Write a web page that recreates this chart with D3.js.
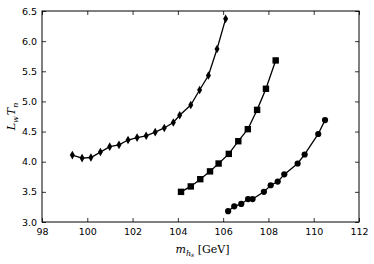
<!DOCTYPE html>
<html>
<head>
<meta charset="utf-8">
<script src="https://cdn.jsdelivr.net/npm/d3@7"></script>
<style>
  body { margin: 0; background: #fff; }
  text { font-family: "DejaVu Sans", sans-serif; }
</style>
</head>
<body>
<div id="chart"></div>
<script>
// diamond series
var diamondX = [99.34, 99.77, 100.16, 100.58, 100.99, 101.4, 101.8, 102.2, 102.6, 103.0, 103.4, 103.8, 104.08, 104.57, 104.96, 105.35, 105.73, 106.11];
var diamondY = [4.11, 4.06, 4.07, 4.16, 4.25, 4.28, 4.36, 4.40, 4.43, 4.49, 4.56, 4.65, 4.77, 4.94, 5.19, 5.43, 5.87, 6.37];
// square series
var squareX = [104.14, 104.57, 104.99, 105.42, 105.8, 106.25, 106.67, 107.09, 107.5, 107.89, 108.32];
var squareY = [3.50, 3.59, 3.71, 3.84, 3.97, 4.13, 4.34, 4.54, 4.86, 5.21, 5.68];
// circle series
var circleX = [106.22, 106.49, 106.8, 107.1, 107.3, 107.8, 108.1, 108.41, 108.7, 109.29, 109.6, 110.2, 110.5];
var circleY = [3.18, 3.26, 3.30, 3.38, 3.38, 3.50, 3.61, 3.67, 3.79, 3.97, 4.12, 4.46, 4.69];

var xTicks = [98, 100, 102, 104, 106, 108, 110, 112];
var yTicks = [3.0, 3.5, 4.0, 4.5, 5.0, 5.5, 6.0, 6.5];

var W = 374, H = 264;
var margin = {top: 11, right: 15, bottom: 42, left: 42};
var width = W - margin.left - margin.right,
    height = H - margin.top - margin.bottom;

var svg = d3.select("#chart").append("svg")
    .attr("width", W).attr("height", H);
var g = svg.append("g")
    .attr("transform", "translate(" + margin.left + "," + margin.top + ")");

var x = d3.scaleLinear().domain([98, 112]).range([0, width]);
var y = d3.scaleLinear().domain([3.0, 6.5]).range([height, 0]);

// axes, ticks pointing inward on all four sides
g.append("g").attr("transform", "translate(0," + height + ")")
  .call(d3.axisBottom(x).tickValues(xTicks).tickSizeInner(-4).tickSizeOuter(0).tickPadding(6).tickFormat(d3.format("d")));
g.append("g")
  .call(d3.axisTop(x).tickValues(xTicks).tickSizeInner(-4).tickSizeOuter(0).tickFormat(""));
g.append("g")
  .call(d3.axisLeft(y).tickValues(yTicks).tickSizeInner(-4).tickSizeOuter(0).tickPadding(5).tickFormat(d3.format(".1f")));
g.append("g").attr("transform", "translate(" + width + ",0)")
  .call(d3.axisRight(y).tickValues(yTicks).tickSizeInner(-4).tickSizeOuter(0).tickFormat(""));

g.selectAll(".domain").remove();
g.selectAll(".tick line").attr("stroke", "#000").attr("stroke-width", 0.8);
g.selectAll(".tick text").attr("font-size", "9.5px").attr("fill", "#000")
  .style("font-family", "'DejaVu Sans', sans-serif");

g.append("rect").attr("width", width).attr("height", height)
  .attr("fill", "none").attr("stroke", "#000").attr("stroke-width", 1);

var line = d3.line()
  .x(function(d) { return x(d[0]); })
  .y(function(d) { return y(d[1]); });

function zipXY(xs, ys) {
  return xs.map(function(v, i) { return [v, ys[i]]; });
}

var series = [
  {data: zipXY(diamondX, diamondY), shape: "diamond"},
  {data: zipXY(squareX, squareY), shape: "square"},
  {data: zipXY(circleX, circleY), shape: "circle"}
];

series.forEach(function(s) {
  g.append("path").datum(s.data)
    .attr("fill", "none").attr("stroke", "#000").attr("stroke-width", 1.3)
    .attr("d", line);

  var m = g.selectAll(null).data(s.data).enter();
  if (s.shape === "circle") {
    m.append("circle")
      .attr("cx", function(d) { return x(d[0]); })
      .attr("cy", function(d) { return y(d[1]); })
      .attr("r", 3.1).attr("fill", "#000");
  } else if (s.shape === "square") {
    m.append("rect")
      .attr("x", function(d) { return x(d[0]) - 3.2; })
      .attr("y", function(d) { return y(d[1]) - 3.2; })
      .attr("width", 6.4).attr("height", 6.4).attr("fill", "#000");
  } else {
    m.append("path")
      .attr("transform", function(d) { return "translate(" + x(d[0]) + "," + y(d[1]) + ")"; })
      .attr("d", "M0,-4.3L2.5,0L0,4.3L-2.5,0Z").attr("fill", "#000");
  }
});

// axis labels (math-style serif italic)
var xl = svg.append("text")
  .attr("x", margin.left + width / 2 + 2).attr("y", 253)
  .attr("text-anchor", "middle")
  .style("font-family", "'DejaVu Serif', 'Liberation Serif', serif")
  .attr("font-size", "11px");
xl.append("tspan").attr("font-style", "italic").text("m");
xl.append("tspan").attr("font-style", "italic").attr("font-size", "8px").attr("dy", 2.5).text("h");
xl.append("tspan").attr("font-style", "italic").attr("font-size", "6px").attr("dy", 1.5).text("s");
xl.append("tspan").attr("dy", -4).text(" [GeV]");

var yl = svg.append("text")
  .attr("transform", "translate(15," + (margin.top + height / 2) + ") rotate(-90)")
  .attr("text-anchor", "middle")
  .style("font-family", "'DejaVu Serif', 'Liberation Serif', serif")
  .attr("font-size", "11px");
yl.append("tspan").attr("font-style", "italic").text("L");
yl.append("tspan").attr("font-style", "italic").attr("font-size", "8px").attr("dy", 2.5).text("w");
yl.append("tspan").attr("font-style", "italic").attr("dy", -2.5).attr("dx", 1).text("T");
yl.append("tspan").attr("font-style", "italic").attr("font-size", "8px").attr("dy", 2.5).text("n");
</script>
</body>
</html>
